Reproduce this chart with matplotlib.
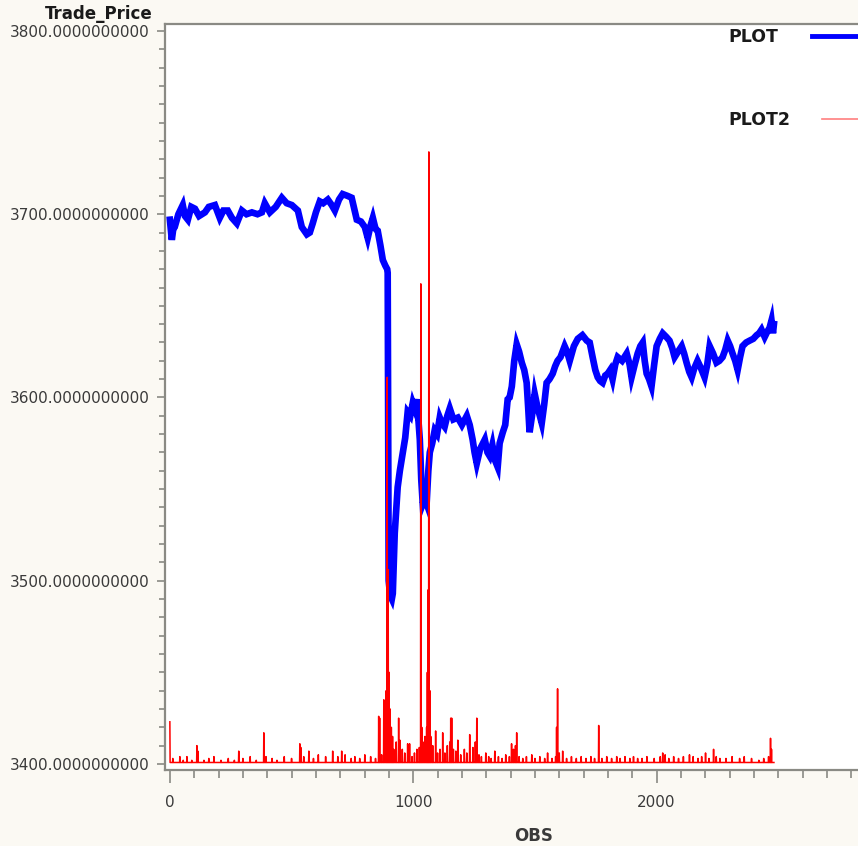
import matplotlib
matplotlib.use("Agg")
import matplotlib.pyplot as plt
from matplotlib.lines import Line2D
from matplotlib.ticker import FormatStrFormatter, MultipleLocator
import numpy as np

# trade price, sampled by observation number
price_obs = [0, 8, 14, 20, 35, 53, 62, 74, 88, 103, 120, 144, 160, 185, 205, 220,
             238, 255, 275, 296, 315, 337, 360, 378, 390, 411, 435, 460, 480, 501,
             526, 542, 563, 575, 587, 600, 616, 630, 649, 665, 678, 695, 710, 730,
             747, 768, 785, 801, 813, 825, 834, 845, 854, 865, 875, 885, 893, 895,
             899, 905, 912, 916, 924, 936, 945, 957, 967, 977, 988, 998, 1006, 1014,
             1020, 1027, 1033, 1039, 1047, 1055, 1062, 1068, 1078, 1088, 1098, 1109,
             1118, 1129, 1140, 1150, 1165, 1183, 1200, 1220, 1232, 1244, 1252, 1261,
             1275, 1294, 1305, 1314, 1325, 1335, 1347, 1355, 1368, 1378, 1388, 1396,
             1405, 1415, 1425, 1435, 1446, 1456, 1466, 1472, 1478, 1488, 1499, 1510,
             1520, 1528, 1538, 1548, 1560, 1573, 1583, 1593, 1605, 1622, 1632, 1643,
             1660, 1676, 1695, 1713, 1725, 1737, 1748, 1758, 1768, 1778, 1789, 1799,
             1809, 1819, 1830, 1840, 1858, 1877, 1889, 1897, 1910, 1922, 1933, 1943,
             1951, 1959, 1969, 1979, 1990, 2000, 2013, 2025, 2040, 2053, 2064, 2074,
             2088, 2103, 2113, 2123, 2134, 2144, 2155, 2168, 2182, 2197, 2208, 2218,
             2232, 2246, 2258, 2271, 2282, 2292, 2302, 2312, 2323, 2333, 2343, 2353,
             2368, 2382, 2397, 2411, 2421, 2431, 2444, 2455, 2464, 2472, 2478, 2482]
price_val = [3697, 3686, 3692, 3693, 3700, 3705, 3699, 3697, 3704, 3703, 3699, 3701,
             3704, 3705, 3698, 3702, 3702, 3698, 3695, 3702, 3700, 3701, 3700, 3701,
             3706, 3701, 3704, 3709, 3706, 3705, 3702, 3693, 3689, 3690, 3695, 3701,
             3707, 3706, 3708, 3705, 3702, 3708, 3711, 3710, 3709, 3697, 3696, 3693,
             3687, 3694, 3698, 3692, 3691, 3683, 3675, 3672, 3670, 3668, 3500, 3492,
             3490, 3493, 3526, 3551, 3560, 3570, 3578, 3592, 3590, 3597, 3594, 3599,
             3590, 3577, 3555, 3542, 3545, 3542, 3560, 3570, 3575, 3582, 3580, 3589,
             3586, 3584, 3590, 3594, 3588, 3589, 3585, 3590, 3585, 3577, 3570, 3564,
             3572, 3577, 3570, 3568, 3574, 3566, 3562, 3575, 3581, 3585, 3599, 3600,
             3606, 3620, 3629, 3625, 3619, 3615, 3608, 3595, 3581, 3590, 3602, 3595,
             3590, 3586, 3596, 3608, 3610, 3613, 3617, 3620, 3622, 3628, 3625, 3620,
             3628, 3632, 3634, 3631, 3630, 3622, 3615, 3611, 3609, 3608, 3612, 3613,
             3615, 3610, 3618, 3622, 3620, 3624, 3618, 3611, 3618, 3624, 3628, 3630,
             3620, 3613, 3610, 3606, 3618, 3628, 3632, 3635, 3633, 3631, 3627, 3622,
             3625, 3628, 3624, 3619, 3614, 3611, 3616, 3620, 3616, 3611, 3618, 3628,
             3624, 3619, 3620, 3622, 3626, 3631, 3628, 3624, 3620, 3615, 3622, 3628,
             3630, 3631, 3632, 3634, 3635, 3637, 3633, 3636, 3638, 3642, 3635, 3640]

# second series: flat base level with spikes at these observations
plot2_base = 3400.8
plot2_obs = [0, 12, 41, 55, 70, 90, 111, 115, 140, 160, 181, 210, 240, 265, 283, 300,
             330, 355, 386, 395, 420, 440, 470, 500, 534, 538, 550, 571, 590, 610,
             640, 669, 690, 706, 720, 745, 760, 780, 801, 825, 845, 858, 862, 870,
             879, 889, 893, 897, 901, 905, 910, 915, 920, 930, 940, 945, 955, 965,
             977, 985, 995, 1005, 1015, 1025, 1031, 1035, 1040, 1048, 1055, 1058,
             1061, 1064, 1068, 1072, 1080, 1092, 1100, 1110, 1121, 1130, 1140, 1150,
             1154, 1158, 1165, 1175, 1183, 1195, 1210, 1220, 1232, 1245, 1255, 1261,
             1270, 1280, 1298, 1310, 1320, 1335, 1350, 1365, 1380, 1395, 1404, 1412,
             1420, 1425, 1435, 1450, 1465, 1487, 1500, 1520, 1540, 1552, 1570, 1585,
             1589, 1593, 1600, 1614, 1630, 1650, 1670, 1690, 1710, 1730, 1745, 1762,
             1775, 1795, 1815, 1836, 1850, 1870, 1890, 1905, 1922, 1940, 1960, 1990,
             2015, 2025, 2035, 2050, 2070, 2090, 2110, 2135, 2150, 2170, 2185, 2201,
             2215, 2234, 2245, 2260, 2285, 2310, 2341, 2360, 2390, 2420, 2440, 2460,
             2468, 2472]
plot2_val = [3423, 3403, 3404, 3402, 3404, 3402, 3410, 3407, 3402, 3403, 3404, 3402,
             3403, 3402, 3407, 3403, 3404, 3402, 3417, 3404, 3403, 3402, 3404, 3403,
             3411, 3409, 3404, 3407, 3403, 3405, 3404, 3407, 3404, 3407, 3405, 3403,
             3404, 3403, 3405, 3404, 3403, 3426, 3425, 3405, 3435, 3440, 3611, 3506,
             3450, 3430, 3420, 3415, 3408, 3412, 3425, 3413, 3408, 3406, 3411, 3411,
             3404, 3406, 3408, 3409, 3662, 3420, 3412, 3415, 3420, 3450, 3495, 3734,
             3440, 3415, 3410, 3418, 3406, 3408, 3417, 3406, 3410, 3412, 3425, 3425,
             3408, 3407, 3413, 3405, 3408, 3406, 3416, 3409, 3412, 3425, 3405, 3404,
             3406, 3404, 3403, 3407, 3404, 3403, 3405, 3404, 3411, 3408, 3410, 3417,
             3404, 3403, 3404, 3405, 3403, 3404, 3403, 3406, 3403, 3404, 3420, 3441,
             3406, 3407, 3403, 3404, 3403, 3404, 3403, 3404, 3403, 3421, 3403, 3404,
             3403, 3404, 3403, 3404, 3403, 3404, 3403, 3403, 3404, 3403, 3404, 3406,
             3405, 3403, 3404, 3403, 3404, 3405, 3404, 3403, 3404, 3406, 3403, 3408,
             3404, 3403, 3403, 3404, 3403, 3404, 3403, 3402, 3403, 3404, 3414, 3408]
n_obs = 2483

y_ticks = [3400, 3500, 3600, 3700, 3800]
x_ticks = [0, 1000, 2000]

plot2 = np.full(n_obs, plot2_base)
plot2[plot2_obs] = plot2_val

bg = "#fbf9f3"
axis_gray = "#8a8a84"
text_gray = "#3a3a3a"

fig = plt.figure(figsize=(8.58, 8.46), dpi=100, facecolor=bg)
ax = fig.add_axes([165 / 858, 1 - 770 / 846, 735 / 858, 746 / 846])
ax.set_facecolor("white")

ax.plot(price_obs, price_val, color="#0000ff", lw=4.8, solid_joinstyle="miter", zorder=2)
ax.plot(np.arange(n_obs), plot2, color="#ff0000", lw=1.1, zorder=3)

ax.set_xlim(-20, 3000)
ax.set_ylim(3396.7, 3803.8)
ax.set_xticks(x_ticks)
ax.set_yticks(y_ticks)
ax.xaxis.set_minor_locator(MultipleLocator(100))
ax.yaxis.set_minor_locator(MultipleLocator(10))
ax.yaxis.set_major_formatter(FormatStrFormatter("%.10f"))

ax.tick_params(axis="both", which="major", direction="out", color=axis_gray,
               labelcolor=text_gray, labelsize=11, width=1.2)
ax.tick_params(axis="x", which="major", length=9, pad=9)
ax.tick_params(axis="y", which="major", length=6, pad=5)
ax.tick_params(axis="x", which="minor", length=6, color=axis_gray, width=1.2)
ax.tick_params(axis="y", which="minor", length=4, color=axis_gray, width=1.2)

for side in ["left", "top", "bottom", "right"]:
    ax.spines[side].set_color(axis_gray)
    ax.spines[side].set_linewidth(1.6)

ax.set_ylabel("Trade_Price", rotation=0, ha="right", va="center",
              fontsize=12, fontweight="bold", color="#1a1a1a")
ax.yaxis.set_label_coords(-0.017, 1.013)
ax.set_xlabel("OBS", fontsize=12, fontweight="bold", color=text_gray, va="center")
ax.xaxis.set_label_coords(0.502, -0.089)

# legend entries: label on the left, line sample running off to the right
fig.text(728 / 858, 1 - 37 / 846, "PLOT", fontsize=12.5, fontweight="bold",
         color="#1a1a1a", va="center", ha="left")
fig.text(728 / 858, 1 - 120 / 846, "PLOT2", fontsize=12.5, fontweight="bold",
         color="#1a1a1a", va="center", ha="left")
fig.add_artist(Line2D([812 / 858, 1.0], [1 - 36 / 846, 1 - 36 / 846],
                      transform=fig.transFigure, color="#0000ff", lw=3.5))
fig.add_artist(Line2D([822 / 858, 1.0], [1 - 119 / 846, 1 - 119 / 846],
                      transform=fig.transFigure, color="#ff7f7f", lw=1.2))

fig.savefig("out.png", dpi=100, facecolor=bg)
